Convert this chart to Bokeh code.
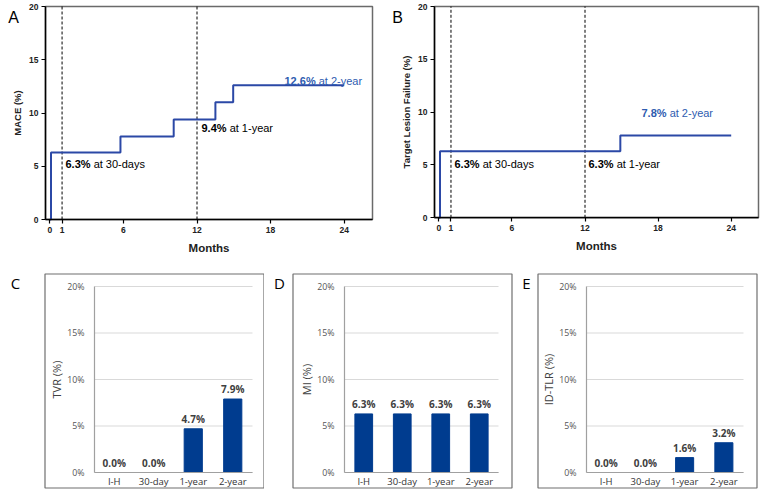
from bokeh.plotting import figure
from bokeh.layouts import column, row
from bokeh.models import (Label, BoxAnnotation, FixedTicker, Range1d,
                          ColumnDataSource, LabelSet)
from bokeh.core.properties import value
from bokeh.embed import file_html
from bokeh.resources import INLINE

# ---------------- data ----------------
months_A = [0, 0.1, 5.76, 10.1, 13.5, 14.95, 24]
mace_A = [0, 6.3, 7.8, 9.4, 11.0, 12.6, 12.6]
months_B = [0, 0.1, 14.9, 24]
tlf_B = [0, 6.3, 7.8, 7.8]
landmarks = [1, 12]
x_ticks_top = [0, 1, 6, 12, 18, 24]
y_ticks_top = [0, 5, 10, 15, 20]

periods = ["I-H", "30-day", "1-year", "2-year"]
tvr = [0.0, 0.0, 4.7, 7.9]
mi = [6.3, 6.3, 6.3, 6.3]
idtlr = [0.0, 0.0, 1.6, 3.2]
y_ticks_bar = [0, 5, 10, 15, 20]
y_tick_labels_bar = ["0%", "5%", "10%", "15%", "20%"]

LINE = "#2B48A6"
NOTE_BLUE = "#2E5CB0"
BAR = "#003C8F"
SANS = "Liberation Sans"
OS = "Open Sans"

# Arial bold advance widths (per 1000 em)
_BW = {**{d: 556 for d in "0123456789"}, ".": 278, "%": 889, " ": 278}


def bold_width(s, size):
    return sum(_BW.get(c, 556) for c in s) * size / 1000.0


class Panel:
    """Maps page pixels to data coordinates for one figure whose frame fills its canvas."""

    def __init__(self, ox, oy, w, h, xa, xpa, xb, xpb, ya, ypa, yb, ypb):
        self.ox, self.oy, self.w, self.h = ox, oy, w, h
        self.kx = (xb - xa) / (xpb - xpa)
        self.ky = (yb - ya) / (ypa - ypb)
        self.xa, self.xpa, self.ya, self.ypa = xa, xpa, ya, ypa

    def x(self, px):
        return self.xa + (px - self.xpa) * self.kx

    def y(self, py):
        return self.ya + (self.ypa - py) * self.ky

    def fig(self):
        p = figure(width=self.w, height=self.h,
                   x_range=Range1d(self.x(self.ox), self.x(self.ox + self.w)),
                   y_range=Range1d(self.y(self.oy + self.h), self.y(self.oy)),
                   output_backend="svg", toolbar_location=None,
                   min_border=0, min_border_left=0, min_border_right=0,
                   min_border_top=0, min_border_bottom=0)
        p.outline_line_color = None
        p.grid.visible = False
        return p


def letter(p, pan, txt, px, py, font, size):
    p.add_layout(Label(x=pan.x(px), y=pan.y(py), text=txt, text_font=font,
                       text_font_size=size, text_align="center", text_baseline="middle",
                       text_color="black"))


def km_fig(pan, xs, ys, ylabel, notes, let, let_pos, area):
    p = pan.fig()
    l, t, r, b = area
    x0, x1 = pan.x(l), pan.x(r)
    p.add_layout(BoxAnnotation(left=x0, right=x1, bottom=pan.y(b), top=pan.y(t),
                               fill_alpha=0, fill_color=None, line_color="#6a6a6a",
                               line_alpha=1.0, line_width=1.5, level="underlay"))
    n = len(landmarks)
    p.segment(x0=landmarks, x1=landmarks, y0=[y_ticks_top[0]] * n,
              y1=[y_ticks_top[-1]] * n, line_color="black", line_dash="3 2", line_width=1)
    p.step(xs, ys, mode="after", line_color=LINE, line_width=2)
    for (bt, rest, px, py, col) in notes:
        p.add_layout(Label(x=pan.x(px), y=pan.y(py), text=bt, text_font=SANS,
                           text_font_style="bold", text_font_size="11px",
                           text_baseline="middle", text_align="left", text_color=col))
        p.add_layout(Label(x=pan.x(px), y=pan.y(py), x_offset=bold_width(bt + " ", 11),
                           text=rest, text_font=SANS, text_font_size="11px",
                           text_baseline="middle", text_align="left", text_color=col))
    letter(p, pan, let, let_pos[0], let_pos[1], SANS, "16px")
    p.xaxis.ticker = FixedTicker(ticks=x_ticks_top)
    p.yaxis.ticker = FixedTicker(ticks=y_ticks_top)
    p.xaxis.fixed_location = 0
    p.xaxis.bounds = (x0, x1)
    p.yaxis.fixed_location = x0
    p.yaxis.bounds = (y_ticks_top[0], y_ticks_top[-1])
    for ax in (p.xaxis, p.yaxis):
        ax.axis_line_color = "black"
        ax.axis_line_width = 1.5
        ax.major_tick_line_color = "black"
        ax.major_tick_line_width = 1.2
        ax.major_tick_out = 4
        ax.major_tick_in = 0
        ax.minor_tick_line_color = None
        ax.minor_tick_out = 0
        ax.major_label_text_font = SANS
        ax.major_label_text_font_style = "bold"
        ax.major_label_text_font_size = "8.5px"
        ax.major_label_text_color = "#222222"
        ax.axis_label_text_font = SANS
        ax.axis_label_text_font_style = "bold"
        ax.axis_label_text_color = "#222222"
    p.xaxis.major_label_standoff = 3
    p.yaxis.major_label_standoff = 3
    p.xaxis.axis_label = "Months"
    p.xaxis.axis_label_text_font_size = "11.5px"
    p.xaxis.axis_label_standoff = 6
    p.yaxis.axis_label = ylabel
    p.yaxis.axis_label_text_font_size = "9.5px"
    p.yaxis.axis_label_standoff = 3
    return p


notes_A = [("6.3%", "at 30-days", 65, 163, "black"),
           ("9.4%", "at 1-year", 201, 127, "black"),
           ("12.6%", "at 2-year", 284, 80, NOTE_BLUE)]
notes_B = [("6.3%", "at 30-days", 454, 163, "black"),
           ("6.3%", "at 1-year", 588, 163, "black"),
           ("7.8%", "at 2-year", 641, 112, NOTE_BLUE)]

panA = Panel(0, 0, 380, 260, 0, 49.3, 24, 343.7, 0, 219, 20, 6)
panB = Panel(380, 0, 382, 260, 0, 438.3, 24, 730.7, 0, 217.3, 20, 6)
pA = km_fig(panA, months_A, mace_A, "MACE (%)", notes_A, "A", (13, 17), (45, 6, 372, 219))
pB = km_fig(panB, months_B, tlf_B, "Target Lesion Failure (%)", notes_B, "B", (397, 17),
            (434, 6, 758, 217.3))


def bar_fig(pan, vals, ylabel, let, let_pos, box):
    p = pan.fig()
    ncat = len(periods)
    xpos = [i + 0.5 for i in range(ncat)]
    # light horizontal grid lines at the y ticks, across the category span
    p.segment(x0=[0] * len(y_ticks_bar), x1=[ncat] * len(y_ticks_bar), y0=y_ticks_bar,
              y1=y_ticks_bar, line_color="#d9d9d9", line_width=1)
    src = ColumnDataSource(dict(x=xpos, top=vals, label=[f"{v:.1f}%" for v in vals]))
    p.vbar(x="x", top="top", width=0.46, source=src, fill_color=BAR, line_color=BAR,
           line_width=1)
    p.add_layout(LabelSet(x="x", y="top", text="label", source=src, y_offset=3,
                          text_align="center", text_baseline="bottom",
                          text_font=value(OS), text_font_style="bold",
                          text_font_size="10px", text_color="#404040"))
    p.xaxis.ticker = FixedTicker(ticks=xpos)
    p.xaxis.major_label_overrides = dict(zip(xpos, periods))
    p.xaxis.fixed_location = 0
    p.xaxis.bounds = (0, ncat)
    p.yaxis.ticker = FixedTicker(ticks=y_ticks_bar)
    p.yaxis.major_label_overrides = dict(zip(y_ticks_bar, y_tick_labels_bar))
    p.yaxis.fixed_location = 0
    p.yaxis.bounds = (y_ticks_bar[0], y_ticks_bar[-1])
    for ax in (p.xaxis, p.yaxis):
        ax.axis_line_color = "#a0a0a0"
        ax.axis_line_width = 1.2
        ax.major_tick_line_color = None
        ax.minor_tick_line_color = None
        ax.major_tick_out = 0
        ax.major_tick_in = 0
        ax.minor_tick_out = 0
        ax.major_label_text_font = OS
    p.yaxis.major_label_text_font_size = "8.8px"
    p.yaxis.major_label_text_color = "#555555"
    p.yaxis.major_label_standoff = 10
    p.xaxis.major_label_text_font_size = "9.5px"
    p.xaxis.major_label_text_color = "#333333"
    p.xaxis.major_label_standoff = 2
    p.yaxis.axis_label = ylabel
    p.yaxis.axis_label_text_font = OS
    p.yaxis.axis_label_text_font_style = "normal"
    p.yaxis.axis_label_text_font_size = "11px"
    p.yaxis.axis_label_text_color = "#404040"
    p.yaxis.axis_label_standoff = 0
    l, t, r, b = box
    p.add_layout(BoxAnnotation(left=pan.x(l), right=pan.x(r), top=pan.y(t),
                               bottom=pan.y(b), fill_alpha=0, fill_color=None,
                               line_color="#6f6f6f", line_alpha=1.0, line_width=1.2))
    letter(p, pan, let, let_pos[0], let_pos[1], OS, "15px")
    return p


panC = Panel(0, 260, 264, 236, 0, 94, 4, 252, 0, 472, 20, 286)
panD = Panel(264, 260, 250, 236, 0, 344, 4, 498, 0, 472, 20, 286)
panE = Panel(514, 260, 248, 236, 0, 586, 4, 743, 0, 472, 20, 286)
pC = bar_fig(panC, tvr, "TVR (%)", "C", (15, 282), (44.5, 273.5, 263.5, 487.5))
pD = bar_fig(panD, mi, "MI (%)", "D", (279, 282), (292.5, 273.5, 511.5, 487.5))
pE = bar_fig(panE, idtlr, "ID-TLR (%)", "E", (526, 282), (537.5, 273.5, 756.5, 487.5))

layout = column(row(pA, pB), row(pC, pD, pE))
open("out.html", "w").write(file_html(layout, INLINE))
